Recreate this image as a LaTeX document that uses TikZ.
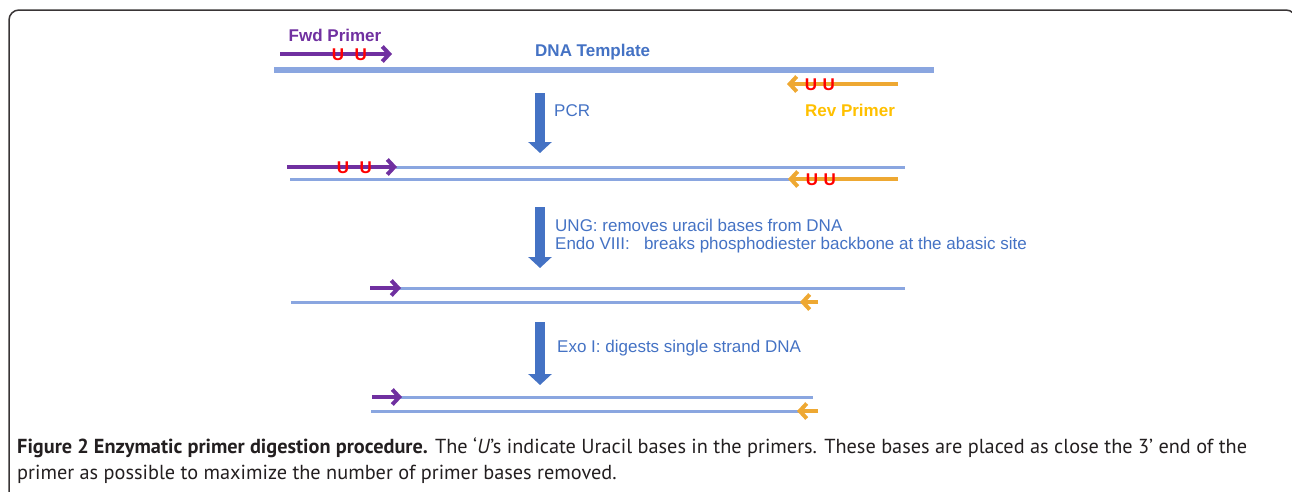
\documentclass[tikz,border=0pt]{standalone}
\usepackage{fontspec}
\setmainfont{Liberation Sans}
\newfontfamily\capfont{PT Sans}
\usetikzlibrary{positioning, arrows.meta}

\definecolor{strandblue}{HTML}{8AA6E0}
\definecolor{stepblue}{HTML}{4472C4}
\definecolor{fwdpurple}{HTML}{7030A0}
\definecolor{revorange}{HTML}{EEA832}
\definecolor{revtext}{HTML}{FFC000}
\definecolor{capgray}{HTML}{231F20}

\tikzset{
  template/.style={draw=strandblue, line width=6pt},
  strand/.style={draw=strandblue, line width=3pt},
  fwdprimer/.style={draw=fwdpurple, line width=4pt, -{Straight Barb[length=7pt, width=15pt]}},
  revprimer/.style={draw=revorange, line width=4pt, -{Straight Barb[length=7pt, width=15pt]}},
  uracil/.style={text=red, font=\fontsize{17}{17}\selectfont\bfseries, inner sep=0pt},
  primerlbl/.style={font=\fontsize{17}{17}\selectfont\bfseries, inner sep=0pt},
  stepdown/.style={draw=stepblue, line width=10pt, -{Triangle[width=23pt, length=11pt]}},
  steplbl/.style={text=stepblue, font=\fontsize{17}{18.5}\selectfont, align=left, inner sep=0pt, anchor=west},
  capline/.style={text=capgray, font=\capfont\fontsize{20.3}{20.3}\selectfont, inner sep=0pt, anchor=west}
}

\begin{document}
\begin{tikzpicture}[x=1pt, y=-1pt]
\useasboundingbox (0,0) rectangle (1292,491);
% frame
\draw[capgray!90, line width=1.5pt, rounded corners=10pt] (9,500) -- (9,10) -- (1296,10) -- (1296,40);

% template and primers
\coordinate (tplL) at (274,70);
\coordinate (tplR) at (934,70);
\draw[template] (tplL) -- (tplR);
\node[primerlbl, text=stepblue, anchor=west] (tpl) at (535,52) {DNA Template};

\coordinate (fwdA) at (280,54);
\coordinate (fwdB) at (392,54);
\draw[fwdprimer] (fwdA) -- (fwdB);
\node[uracil] (ua1) at (338,55) {U};
\node[uracil, right=10pt of ua1] (ua2) {U};
\node[primerlbl, text=fwdpurple] (fwdlbl) at (335,35) {Fwd Primer};

\coordinate (revA) at (898,84);
\coordinate (revB) at (787,84);
\draw[revprimer] (revA) -- (revB);
\node[uracil] (ub1) at (811,85) {U};
\node[uracil, right=5pt of ub1] (ub2) {U};
\node[primerlbl, text=revtext] (revlbl) at (850,110) {Rev Primer};

% PCR
\coordinate (pcrT) at (540,93);
\coordinate (pcrB) at (540,153);
\draw[stepdown] (pcrT) -- (pcrB);
\node[steplbl] (pcr) at (554,111) {PCR};

% after PCR
\coordinate (s1aL) at (396,167);
\coordinate (s1aR) at (905,167);
\coordinate (s1bL) at (290,179);
\coordinate (s1bR) at (880,179);
\draw[strand] (s1aL) -- (s1aR);
\draw[strand] (s1bL) -- (s1bR);
\coordinate (fwd1A) at (287,167);
\coordinate (fwd1B) at (397,167);
\draw[fwdprimer] (fwd1A) -- (fwd1B);
\node[uracil] (uc1) at (343,168) {U};
\node[uracil, right=10pt of uc1] (uc2) {U};
\coordinate (rev1A) at (898,179);
\coordinate (rev1B) at (788,179);
\draw[revprimer] (rev1A) -- (rev1B);
\node[uracil] (ud1) at (812,180) {U};
\node[uracil, right=5pt of ud1] (ud2) {U};

% UNG + Endo VIII
\coordinate (ungT) at (540,207);
\coordinate (ungB) at (540,268);
\draw[stepdown] (ungT) -- (ungB);
\node[steplbl] (ung) at (555,236) {UNG: removes uracil bases from DNA\\Endo VIII:\ \ \ breaks phosphodiester backbone at the abasic site};

\coordinate (s2aL) at (398,288);
\coordinate (s2aR) at (905,288);
\coordinate (s2bL) at (291,302);
\coordinate (s2bR) at (810,302);
\draw[strand] (s2aL) -- (s2aR);
\draw[strand] (s2bL) -- (s2bR);
\coordinate (fwd2A) at (370,288);
\coordinate (fwd2B) at (401,288);
\draw[fwdprimer] (fwd2A) -- (fwd2B);
\coordinate (rev2A) at (818,302);
\coordinate (rev2B) at (800,302);
\draw[revprimer] (rev2A) -- (rev2B);

% Exo I
\coordinate (exoT) at (540,322);
\coordinate (exoB) at (540,385);
\draw[stepdown] (exoT) -- (exoB);
\node[steplbl] (exo) at (557,348) {Exo I: digests single strand DNA};

\coordinate (s3aL) at (399,397);
\coordinate (s3aR) at (813,397);
\coordinate (s3bL) at (371,411);
\coordinate (s3bR) at (810,411);
\draw[strand] (s3aL) -- (s3aR);
\draw[strand] (s3bL) -- (s3bR);
\coordinate (fwd3A) at (372,397);
\coordinate (fwd3B) at (402,397);
\draw[fwdprimer] (fwd3A) -- (fwd3B);
\coordinate (rev3A) at (818,411);
\coordinate (rev3B) at (797,411);
\draw[revprimer] (rev3A) -- (rev3B);

% caption
\node[capline] (cap1) at (17,448) {\textbf{Figure 2 Enzymatic primer digestion procedure.} The ‘\textit{U}’s indicate Uracil bases in the primers. These bases are placed as close the 3’ end of the};
\node[capline] (cap2) at (17,474) {primer as possible to maximize the number of primer bases removed.};
\end{tikzpicture}
\end{document}
